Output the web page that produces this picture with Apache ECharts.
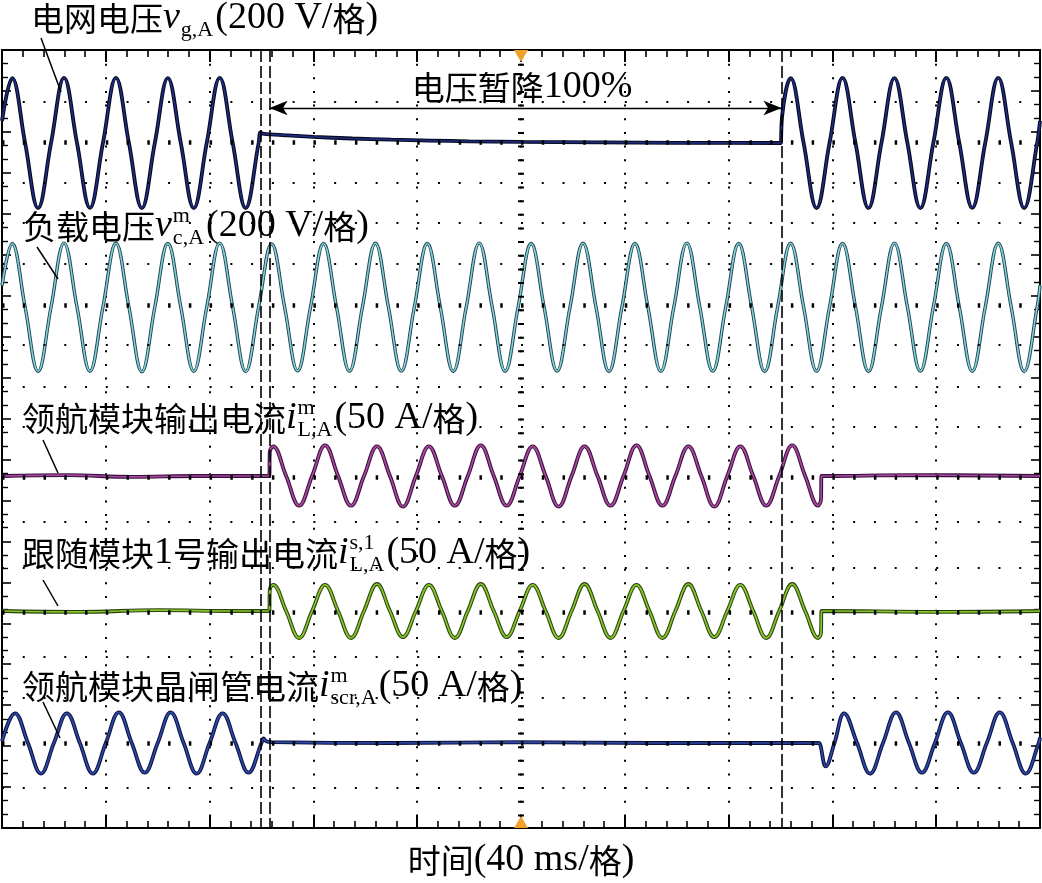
<!DOCTYPE html>
<html><head><meta charset="utf-8">
<script src="https://cdn.jsdelivr.net/npm/echarts@6.0.0/dist/echarts.min.js"></script>
<style>html,body{margin:0;padding:0;background:#fff}#c{width:1042px;height:883px}</style>
</head><body><div id="c"></div>
<script>
// ===== data (time in ms, voltage in V, current in A) =====
const eventTimes = [99.6, 103.1, 300.4];   // dashed cursors: sag start, converter start, recovery
const triggerTime = 200;                    // orange trigger marks

const vgA = [[0,108],[3.9,317],[8.9,0],[13.9,-318],[18.9,0],[23.9,318],[28.9,0],[33.9,-317],[38.9,0],[43.9,318],[48.9,0],[53.9,-318],[58.9,0],[63.9,317],[68.9,0],[73.9,-318],[78.9,0],[83.9,318],[88.9,0],[93.9,-318],[98.9,0],[99.6,52],[100.4,46],[105,41],[110,37],[120,30],[135,22],[150,16],[165,12],[180,8],[200,5],[230,3],[260,1],[300.2,0],[300.4,0],[300.6,128],[303.9,317],[308.9,0],[313.9,-318],[318.9,0],[323.9,318],[328.9,0],[333.9,-318],[338.9,0],[343.9,317],[348.9,0],[353.9,-318],[358.9,0],[363.9,318],[368.9,0],[373.9,-317],[378.9,0],[383.9,318],[388.9,0],[393.9,-318],[398.9,0],[400,108]];

const vcA = [[0,105],[3.9,310],[8.9,0],[13.9,-315],[18.9,0],[23.9,312],[28.9,0],[33.9,-314],[38.9,0],[43.9,311],[48.9,0],[53.9,-316],[58.9,0],[63.9,310],[68.9,0],[73.9,-314],[78.9,0],[83.9,312],[88.9,0],[93.9,-315],[98.9,0],[103.9,308],[108.9,0],[113.9,-312],[118.9,0],[123.9,310],[128.9,0],[133.9,-314],[138.9,0],[143.9,311],[148.9,0],[153.9,-313],[158.9,0],[163.9,310],[168.9,0],[173.9,-315],[178.9,0],[183.9,312],[188.9,0],[193.9,-314],[198.9,0],[203.9,310],[208.9,0],[213.9,-313],[218.9,0],[223.9,311],[228.9,0],[233.9,-315],[238.9,0],[243.9,310],[248.9,0],[253.9,-314],[258.9,0],[263.9,312],[268.9,0],[273.9,-313],[278.9,0],[283.9,310],[288.9,0],[293.9,-315],[298.9,0],[303.9,311],[308.9,0],[313.9,-314],[318.9,0],[323.9,310],[328.9,0],[333.9,-315],[338.9,0],[343.9,312],[348.9,0],[353.9,-313],[358.9,0],[363.9,310],[368.9,0],[373.9,-314],[378.9,0],[383.9,311],[388.9,0],[393.9,-315],[398.9,0],[400,105]];

const iLmA = [[0,0],[25,1],[50,-1],[75,0],[102.6,0],[103.0,0],[103.2,27],[104.5,33],[109.5,0],[114.5,-33],[119.5,0],[124.5,34],[129.5,0],[134.5,-33],[139.5,0],[144.5,33],[149.5,0],[154.5,-34],[159.5,0],[164.5,33],[169.5,0],[174.5,-33],[179.5,0],[184.5,34],[189.5,0],[194.5,-33],[199.5,0],[204.5,33],[209.5,0],[214.5,-34],[219.5,0],[224.5,33],[229.5,0],[234.5,-33],[239.5,0],[244.5,34],[249.5,0],[254.5,-33],[259.5,0],[264.5,33],[269.5,0],[274.5,-34],[279.5,0],[284.5,33],[289.5,0],[294.5,-33],[299.5,0],[304.5,34],[309.5,0],[314.5,-33],[315.6,-26],[315.8,0],[316.2,0],[350,1],[400,0]];

const iLs1A = [[0,0],[30,-1],[60,1],[90,0],[102.6,0],[103.0,0],[103.2,24],[104.5,29],[109.5,0],[114.5,-30],[119.5,0],[124.5,29],[129.5,0],[134.5,-30],[139.5,0],[144.5,30],[149.5,0],[154.5,-29],[159.5,0],[164.5,29],[169.5,0],[174.5,-30],[179.5,0],[184.5,30],[189.5,0],[194.5,-29],[199.5,0],[204.5,29],[209.5,0],[214.5,-30],[219.5,0],[224.5,30],[229.5,0],[234.5,-30],[239.5,0],[244.5,29],[249.5,0],[254.5,-30],[259.5,0],[264.5,30],[269.5,0],[274.5,-29],[279.5,0],[284.5,29],[289.5,0],[294.5,-30],[299.5,0],[304.5,30],[309.5,0],[314.5,-30],[315.6,-24],[315.8,0],[316.2,0],[360,-1],[400,0]];

const iScrA = [[0,2],[5,33],[10,0],[15,-34],[20,0],[25,33],[30,0],[35,-34],[40,0],[45,34],[50,0],[55,-33],[60,0],[65,34],[70,0],[75,-34],[80,0],[85,33],[90,0],[95,-33],[100,0],[100.8,5],[101.8,2],[104,1],[150,0],[200,1],[250,0],[300,0],[314.4,0],[314.8,0],[317.4,-26],[320.8,0],[324.5,33],[329.5,0],[334.5,-34],[339.5,0],[344.5,34],[349.5,0],[354.5,-33],[359.5,0],[364.5,34],[369.5,0],[374.5,-33],[379.5,0],[384.5,34],[389.5,0],[394.5,-34],[399.5,0],[400,6]];

// horizontal graticule rows (screen divisions from top)
const gridRowsMinor = [1.270, 3.248, 4.225, 5.226, 7.204, 8.230, 9.207, 11.527, 12.650, 14.824, 15.825, 18.023];
const gridRowsBold  = [2.247, 6.228, 10.428, 13.725, 16.924];

// ===== layout / style configuration =====
const T_MIN = 0, T_MAX = 400, T_DIV = 40;
const SCREEN_DIVS = 19;
const ARROW_Y = 1.416;
const channels = [
  {data: vgA,   scale: 200, zero: 2.271,  div: 1.0,   outline: '#05081e', color: '#1f2b7c', ow: 3.8, iw: 1.7},
  {data: vcA,   scale: 200, zero: 6.276,  div: 1.0,   outline: '#1d4650', color: '#86cfd9', ow: 3.4, iw: 1.5},
  {data: iLmA,  scale: 50,  zero: 10.404, div: 1.099, outline: '#35103a', color: '#a9479f', ow: 3.8, iw: 1.7},
  {data: iLs1A, scale: 50,  zero: 13.701, div: 1.099, outline: '#29420c', color: '#88c42c', ow: 3.8, iw: 1.7},
  {data: iScrA, scale: 50,  zero: 16.924, div: 1.099, outline: '#0a1240', color: '#2f48a4', ow: 3.8, iw: 1.7}
];

const CJK_FONT = '"Noto Sans CJK SC"', LAT_FONT = '"Liberation Serif"';
const CJK_SIZE = 33, LAT_SIZE = 38, SCR_SIZE = 22;
const mctx = document.createElement('canvas').getContext('2d');
function measure(t, font) { mctx.font = font; return mctx.measureText(t).width; }
function splitRuns(s) {
  const runs = []; let cur = '', curC = null;
  for (const ch of s) {
    const c = /[\u3000-\u9fff\uff00-\uffef]/.test(ch);
    if (curC === null || c === curC) cur += ch; else { runs.push({t: cur, c: curC}); cur = ch; }
    curC = c;
  }
  if (cur) runs.push({t: cur, c: curC});
  return runs;
}
function buildLabel(parts, x0, yc, align) {
  const items = []; let x = 0;
  parts.forEach(p => {
    if (p.t !== undefined) {
      splitRuns(p.t).forEach(r => {
        const font = r.c ? `${CJK_SIZE}px ${CJK_FONT}` : `${LAT_SIZE}px ${LAT_FONT}`;
        items.push({text: r.t, font, x, y: yc}); x += measure(r.t, font);
      });
    } else if (p.it) {
      const font = `italic ${LAT_SIZE}px ${LAT_FONT}`;
      items.push({text: p.it, font, x, y: yc}); x += measure(p.it, font) + 1;
    } else {
      const font = `${SCR_SIZE}px ${LAT_FONT}`; let w = 0;
      if (p.sup) { items.push({text: p.sup, font, x, y: yc - 10}); w = Math.max(w, measure(p.sup, font)); }
      if (p.sub) { items.push({text: p.sub, font, x, y: yc + 12}); w = Math.max(w, measure(p.sub, font)); }
      x += w + 2;
    }
  });
  const off = align === 'center' ? x0 - x / 2 : x0;
  return items.map(it => ({type: 'text', x: off + it.x, y: it.y, z: 100, silent: true,
    style: {text: it.text, font: it.font, fill: '#000', textAlign: 'left', textVerticalAlign: 'middle', verticalAlign: 'middle'}}));
}

const labels = [
  {parts: [{t: '电网电压'}, {it: 'v'}, {sub: 'g,A'}, {t: '(200 V/格)'}], x: 31, y: 18},
  {parts: [{t: '负载电压'}, {it: 'v'}, {sup: 'm', sub: 'c,A'}, {t: '(200 V/格)'}], x: 23, y: 226},
  {parts: [{t: '领航模块输出电流'}, {it: 'i'}, {sup: 'm', sub: 'L,A'}, {t: '(50 A/格)'}], x: 22, y: 418},
  {parts: [{t: '跟随模块1号输出电流'}, {it: 'i'}, {sup: 's,1', sub: 'L,A'}, {t: '(50 A/格)'}], x: 22, y: 553},
  {parts: [{t: '领航模块晶闸管电流'}, {it: 'i'}, {sup: 'm', sub: 'scr,A'}, {t: '(50 A/格)'}], x: 22, y: 686},
  {parts: [{t: '电压暂降100%'}], x: 522, y: 87, align: 'center'},
  {parts: [{t: '时间(40 ms/格)'}], x: 521, y: 860, align: 'center'}
];
const leaders = [[41, 38, 61, 92], [37, 247, 58, 279], [43, 440, 58, 473], [43, 580, 58, 606], [43, 702, 60, 738]];

let graphics = [];
labels.forEach(l => { graphics = graphics.concat(buildLabel(l.parts, l.x, l.y, l.align)); });
leaders.forEach(s => graphics.push({type: 'line', z: 100, silent: true, shape: {x1: s[0], y1: s[1], x2: s[2], y2: s[3]}, style: {stroke: '#000', lineWidth: 1.5}}));

const axisCommonX = {
  type: 'value', min: T_MIN, max: T_MAX, interval: T_DIV,
  axisLine: {show: true, onZero: false, lineStyle: {color: '#000', width: 2}},
  axisTick: {show: true, inside: true, length: 12, lineStyle: {color: '#000', width: 2}},
  minorTick: {show: true, splitNumber: 5, length: 7, lineStyle: {color: '#000', width: 1.6}},
  axisLabel: {show: false}, minorSplitLine: {show: false}
};
const axisCommonY = {
  type: 'value', min: 0, max: SCREEN_DIVS, interval: 1, inverse: true,
  axisLine: {show: true, onZero: false, lineStyle: {color: '#000', width: 2}},
  axisTick: {show: true, inside: true, length: 9, lineStyle: {color: '#000', width: 1.6}},
  minorTick: {show: true, splitNumber: 3, length: 6, lineStyle: {color: '#000', width: 1.4}},
  axisLabel: {show: false}, splitLine: {show: false}
};

const series = [];
const mlBase = {silent: true, symbol: ['none', 'none'], label: {show: false}, animation: false, emphasis: {disabled: true}};
series.push({type: 'line', data: [], xAxisIndex: 0, yAxisIndex: 0, z: 2, silent: true,
  markLine: Object.assign({}, mlBase, {lineStyle: {color: '#000', width: 2, type: [2, 18.76]}, data: gridRowsMinor.map(v => ({yAxis: v}))})});
series.push({type: 'line', data: [], xAxisIndex: 0, yAxisIndex: 0, z: 2, silent: true,
  markLine: Object.assign({}, mlBase, {lineStyle: {color: '#000', width: 4.5, type: [2.5, 18.26]}, data: gridRowsBold.map(v => ({yAxis: v}))})});
series.push({type: 'line', data: [], xAxisIndex: 0, yAxisIndex: 0, z: 2, silent: true,
  markLine: Object.assign({}, mlBase, {lineStyle: {color: '#000', width: 6, type: [2, 11.65]}, data: [{xAxis: triggerTime}]}),
  markPoint: {silent: true, animation: false, label: {show: false}, itemStyle: {color: '#f0a22c'},
    data: [{coord: [triggerTime, 0], symbol: 'triangle', symbolRotate: 180, symbolSize: [14, 12], symbolOffset: [0, 6]},
           {coord: [triggerTime, SCREEN_DIVS], symbol: 'triangle', symbolSize: [14, 12], symbolOffset: [0, -6]}]}});

channels.forEach((ch, i) => {
  const base = {type: 'line', data: ch.data, xAxisIndex: 0, yAxisIndex: 2 + i, showSymbol: false, symbol: 'none',
    smooth: 0.4, silent: true, animation: false};
  series.push(Object.assign({}, base, {z: 3, lineStyle: {color: ch.outline, width: ch.ow}}));
  series.push(Object.assign({}, base, {z: 4, lineStyle: {color: ch.color, width: ch.iw}}));
});

series.push({type: 'line', data: [], xAxisIndex: 0, yAxisIndex: 0, z: 6, silent: true,
  markLine: Object.assign({}, mlBase, {lineStyle: {color: '#000', width: 1.6, type: [12, 4]}, data: eventTimes.map(t => ({xAxis: t}))})});
series.push({type: 'line', data: [], xAxisIndex: 0, yAxisIndex: 0, z: 6, silent: true,
  markLine: Object.assign({}, mlBase, {symbol: ['arrow', 'arrow'], symbolSize: [11, 18],
    lineStyle: {color: '#000', width: 1.3, type: 'solid'},
    data: [[{coord: [eventTimes[1], ARROW_Y]}, {coord: [eventTimes[2], ARROW_Y]}]]})});

const yAxes = [
  Object.assign({}, axisCommonY, {position: 'left'}),
  Object.assign({}, axisCommonY, {position: 'right'})
].concat(channels.map(ch => ({type: 'value', show: false, min: -(SCREEN_DIVS - ch.zero) / ch.div * ch.scale, max: ch.zero / ch.div * ch.scale})));

const option = {
  animation: false,
  backgroundColor: '#fff',
  grid: {left: 2, right: 2, top: 50, bottom: 55, containLabel: false, outerBoundsMode: 'none'},
  xAxis: [
    Object.assign({}, axisCommonX, {position: 'bottom', splitLine: {show: true, lineStyle: {color: '#000', width: 2, type: [2, 11.65]}}}),
    Object.assign({}, axisCommonX, {position: 'top', splitLine: {show: false}})
  ],
  yAxis: yAxes,
  series: series,
  graphic: graphics
};
const chart = echarts.init(document.getElementById('c'));
chart.setOption(option);
</script></body></html>
